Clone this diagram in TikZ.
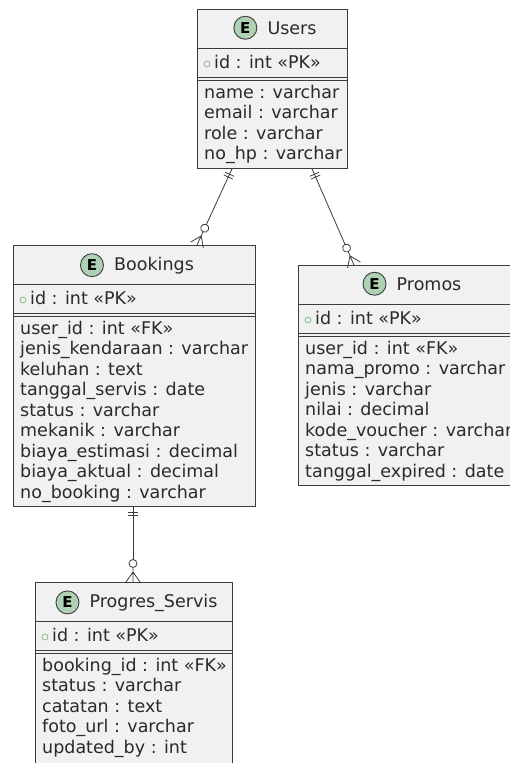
\documentclass[tikz,border=0pt]{standalone}
\usepackage{fontspec}
\setmainfont{DejaVu Sans}
\usetikzlibrary{positioning,calc}

\definecolor{fond}{HTML}{F1F1F1}
\definecolor{trait}{HTML}{3C3C3C}
\definecolor{spot}{HTML}{ADD1B2}
\definecolor{cle}{HTML}{84BE84}
\definecolor{texte}{HTML}{2A2A2A}

\tikzset{
  entite/.style = {draw=trait, fill=fond, line width=0.8pt, anchor=north west, inner sep=0pt},
  titre/.style = {text=texte, inner sep=0pt, anchor=base},
  champ/.style = {text=texte, inner sep=0pt, align=left, anchor=base west},
  lettreE/.style = {circle, draw=trait, fill=spot, line width=0.9pt, minimum size=23pt,
    inner sep=0pt, font=\fontsize{15}{15}\selectfont\bfseries},
  sep/.style = {draw=trait, line width=0.8pt},
  lien/.style = {draw=trait, line width=0.8pt, shorten >=22.5pt},
  pied/.pic = {
    \draw[trait, line width=0.8pt, shorten >=0pt] (-14.5,0) -- (-10,0) -- (0,-7)
      (-10,0) -- (0,0) (-10,0) -- (0,7);
    \draw[trait, line width=0.8pt, fill=white] (-18.5,0) circle[radius=4];
  },
  barres/.pic = {
    \draw[trait, line width=0.8pt, shorten >=0pt] (6,-5) -- (6,5) (9,-5) -- (9,5);
  }
}

\begin{document}
\begin{tikzpicture}[x=1pt, y=-1pt, font=\fontsize{17.5}{20.5}\selectfont]
  \clip (0,0) rectangle (510,763);

  % Les boites
  \node[entite, minimum width=150pt, minimum height=159pt] (users) at (197,9) {};
  \node[entite, minimum width=242pt, minimum height=261pt] (bookings) at (13,245) {};
  \node[entite, minimum width=222pt, minimum height=220pt] (promos) at (298,265) {};
  \node[entite, minimum width=197pt, minimum height=181pt] (progres) at (35,582) {};

  % Les separations
  \foreach \e in {users,bookings,promos,progres} {
    \draw[sep] ($(\e.north west)+(0,39)$) -- ($(\e.north east)+(0,39)$);
    \draw[sep] ($(\e.north west)+(0,68)$) -- ($(\e.north east)+(0,68)$);
    \draw[sep] ($(\e.north west)+(0,71)$) -- ($(\e.north east)+(0,71)$);
    \draw[cle, line width=0.8pt] ($(\e.north west)+(10,55)$) circle[radius=3];
  }

  % Les titres
  \node[titre] (usersT) at (292,34) {Users};
  \node[lettreE, left=10pt of usersT] (usersE) {E};
  \node[titre] (bookingsT) at (154,270) {Bookings};
  \node[lettreE, left=10pt of bookingsT] (bookingsE) {E};
  \node[titre] (promosT) at (429,290) {Promos};
  \node[lettreE, left=10pt of promosT] (promosE) {E};
  \node[titre] (progresT) at (153.5,607) {Progres\_Servis};
  \node[lettreE, left=10pt of progresT] (progresE) {E};

  % Les cles
  \node[champ] (usersId) at (214,68) {id : int «PK»};
  \node[champ] (bookingsId) at (30,304) {id : int «PK»};
  \node[champ] (promosId) at (315,324) {id : int «PK»};
  \node[champ] (progresId) at (52,641) {id : int «PK»};

  % Les champs (ligne de base de la derniere ligne)
  \node[champ] (usersC) at (204,159.5) {name : varchar\\ email : varchar\\ role : varchar\\
    no\_hp : varchar};
  \node[champ] (bookingsC) at (20,498) {user\_id : int «FK»\\ jenis\_kendaraan : varchar\\
    keluhan : text\\ tanggal\_servis : date\\ status : varchar\\ mekanik : varchar\\
    biaya\_estimasi : decimal\\ biaya\_aktual : decimal\\ no\_booking : varchar};
  \node[champ] (promosC) at (305,477) {user\_id : int «FK»\\ nama\_promo : varchar\\
    jenis : varchar\\ nilai : decimal\\ kode\_voucher : varchar\\ status : varchar\\
    tanggal\_expired : date};
  \node[champ] (progresC) at (42,753) {booking\_id : int «FK»\\ status : varchar\\
    catatan : text\\ foto\_url : varchar\\ updated\_by : int};

  % Les liens
  \draw[lien] ($(users.south west)+(35,0)$) -- ($(bookings.north west)+(184,0)$)
    pic[pos=0, sloped, allow upside down] {barres}
    pic[pos=1, sloped, allow upside down] {pied};
  \draw[lien] ($(users.south west)+(115,0)$) -- ($(promos.north west)+(56,0)$)
    pic[pos=0, sloped, allow upside down] {barres}
    pic[pos=1, sloped, allow upside down] {pied};
  \draw[lien] ($(bookings.south west)+(120,0)$) -- ($(progres.north west)+(98,0)$)
    pic[pos=0, sloped, allow upside down] {barres}
    pic[pos=1, sloped, allow upside down] {pied};

\end{tikzpicture}
\end{document}
